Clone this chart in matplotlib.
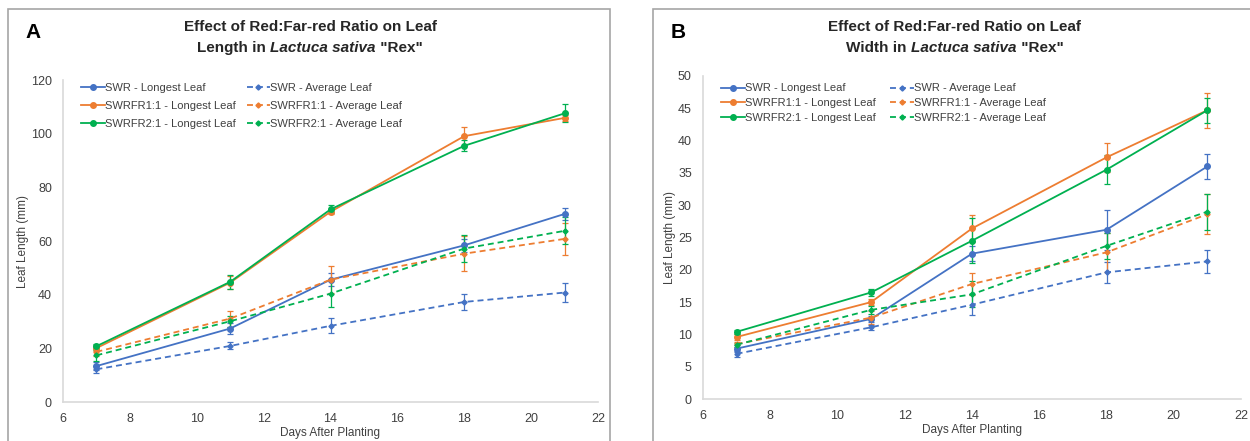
import matplotlib.pyplot as plt
from matplotlib.patches import Rectangle
from matplotlib.lines import Line2D

# Data
days = [7, 11, 14, 18, 21]

# Panel A - leaf length (mm)
len_swr_long = [13.4, 27.4, 45.6, 58.4, 70.1]
len_swr_long_err = [1.5, 2.0, 2.5, 2.5, 2.2]
len_swr_avg = [12.2, 20.9, 28.4, 37.3, 40.8]
len_swr_avg_err = [1.2, 1.3, 2.8, 3.0, 3.4]
len_fr1_long = [20.1, 44.5, 70.9, 99.1, 105.9]
len_fr1_long_err = [1.0, 2.5, 1.0, 3.5, 1.2]
len_fr1_avg = [18.7, 31.1, 45.6, 55.3, 60.8]
len_fr1_avg_err = [1.5, 3.0, 5.0, 6.5, 6.0]
len_fr2_long = [20.8, 44.8, 71.8, 95.5, 107.6]
len_fr2_long_err = [1.0, 2.5, 1.5, 2.0, 3.4]
len_fr2_avg = [17.4, 30.1, 40.4, 57.2, 63.8]
len_fr2_avg_err = [2.0, 2.0, 5.0, 5.0, 5.0]

# Panel B - leaf width (mm)
wid_swr_long = [7.8, 12.4, 22.5, 26.2, 36.0]
wid_swr_long_err = [0.5, 0.5, 1.2, 3.1, 1.9]
wid_swr_avg = [7.0, 11.1, 14.6, 19.6, 21.3]
wid_swr_avg_err = [0.5, 0.4, 1.6, 1.6, 1.8]
wid_fr1_long = [9.6, 15.0, 26.4, 37.4, 44.7]
wid_fr1_long_err = [0.4, 0.5, 2.1, 2.3, 2.7]
wid_fr1_avg = [8.5, 12.6, 17.8, 22.7, 28.6]
wid_fr1_avg_err = [0.4, 1.0, 1.7, 3.0, 3.1]
wid_fr2_long = [10.4, 16.5, 24.5, 35.5, 44.7]
wid_fr2_long_err = [0.3, 0.6, 3.5, 2.2, 1.9]
wid_fr2_avg = [8.4, 13.8, 16.2, 23.7, 29.0]
wid_fr2_avg_err = [0.3, 0.6, 2.0, 2.0, 2.8]

labels = ["SWR - Longest Leaf", "SWR - Average Leaf",
          "SWRFR1:1 - Longest Leaf", "SWRFR1:1 - Average Leaf",
          "SWRFR2:1 - Longest Leaf", "SWRFR2:1 - Average Leaf"]

BLUE = "#4472C4"
ORANGE = "#ED7D31"
GREEN = "#00B050"
GRID = "#D9D9D9"
TXT = "#404040"

plt.rcParams['font.family'] = ['Liberation Sans Narrow', 'Liberation Sans', 'DejaVu Sans']

fig = plt.figure(figsize=(12.5, 4.41), dpi=100)

# panel borders (Excel chart areas)
fig.patches.append(Rectangle((8 / 1250, -0.05), 602 / 1250, 1.05 - 9 / 441,
                             transform=fig.transFigure, fill=False,
                             edgecolor="#A6A6A6", lw=1.2))
fig.patches.append(Rectangle((653 / 1250, -0.05), 0.6, 1.05 - 9 / 441,
                             transform=fig.transFigure, fill=False,
                             edgecolor="#A6A6A6", lw=1.2))

ax_a = fig.add_axes([0.0504, 0.0884, 0.428, 0.730])
ax_b = fig.add_axes([0.5624, 0.0952, 0.4304, 0.7325])


def draw_panel(ax, series, ymax, ystep, leg_top, leg_space, col2_x):
    colors = [BLUE, BLUE, ORANGE, ORANGE, GREEN, GREEN]
    handles = []
    for i, (vals, errs) in enumerate(series):
        dashed = i % 2 == 1
        style = dict(color=colors[i], ls="--" if dashed else "-", lw=1.3,
                     marker="D" if dashed else "o", ms=2.6 if dashed else 4)
        if dashed:
            style["dashes"] = (3.3, 2.2)
        ax.errorbar(days, vals, yerr=errs, capsize=2, elinewidth=0.9,
                    capthick=0.9, **style)
        handles.append(Line2D([], [], **style))
    ax.set_xlim(6, 22)
    ax.set_ylim(0, ymax)
    ax.set_xticks(range(6, 23, 2))
    ax.set_yticks(range(0, ymax + 1, ystep))
    ax.tick_params(length=0, labelsize=9, colors=TXT, pad=8)
    for s in ["top", "right"]:
        ax.spines[s].set_visible(False)
    for s in ["left", "bottom"]:
        ax.spines[s].set_color(GRID)
        ax.spines[s].set_linewidth(1.2)
    ax.set_xlabel("Days After Planting", fontsize=8.5, color=TXT, labelpad=1)
    ax.set_ylabel("Leaf Length (mm)", fontsize=8.5, color=TXT, labelpad=1)
    # two legend columns: longest leaf (solid) and average leaf (dashed)
    leg_kw = dict(loc="upper left", borderpad=0, borderaxespad=0, frameon=False,
                  fontsize=8, handlelength=2.1, handletextpad=0.05,
                  labelspacing=leg_space, labelcolor=TXT)
    leg1 = ax.legend([handles[k] for k in (0, 2, 4)], [labels[k] for k in (0, 2, 4)],
                     bbox_to_anchor=(0.034, leg_top), **leg_kw)
    ax.add_artist(leg1)
    ax.legend([handles[k] for k in (1, 3, 5)], [labels[k] for k in (1, 3, 5)],
              bbox_to_anchor=(col2_x, leg_top), **leg_kw)


draw_panel(ax_a, [(len_swr_long, len_swr_long_err), (len_swr_avg, len_swr_avg_err),
                  (len_fr1_long, len_fr1_long_err), (len_fr1_avg, len_fr1_avg_err),
                  (len_fr2_long, len_fr2_long_err), (len_fr2_avg, len_fr2_avg_err)],
           120, 20, 0.99, 0.7, 0.343)
draw_panel(ax_b, [(wid_swr_long, wid_swr_long_err), (wid_swr_avg, wid_swr_avg_err),
                  (wid_fr1_long, wid_fr1_long_err), (wid_fr1_avg, wid_fr1_avg_err),
                  (wid_fr2_long, wid_fr2_long_err), (wid_fr2_avg, wid_fr2_avg_err)],
           50, 5, 0.977, 0.42, 0.348)

# titles and panel letters; second line mixes bold and bold-italic text
renderer = fig.canvas.get_renderer()
tkw = dict(fontsize=11, fontweight="bold", color="#262626", va="center")
for cx, word, letter, lx in [(310, "Length", "A", 33), (955, "Width", "B", 678)]:
    fig.text(cx / 1250, 1 - 27 / 441, "Effect of Red:Far-red Ratio on Leaf",
             ha="center", **tkw)
    parts = [(word + " in ", "normal"), ("Lactuca sativa", "italic"), (' "Rex"', "normal")]
    pieces = [fig.text(0, 1 - 48 / 441, s, style=st, ha="left", **tkw) for s, st in parts]
    widths = [p.get_window_extent(renderer).width for p in pieces]
    x = cx - sum(widths) / 2
    for p, w in zip(pieces, widths):
        p.set_x(x / 1250)
        x += w
    fig.text(lx / 1250, 1 - 33 / 441, letter, ha="center", va="center",
             fontsize=15, fontweight="bold", color="black")

fig.savefig("out.png", dpi=100)
